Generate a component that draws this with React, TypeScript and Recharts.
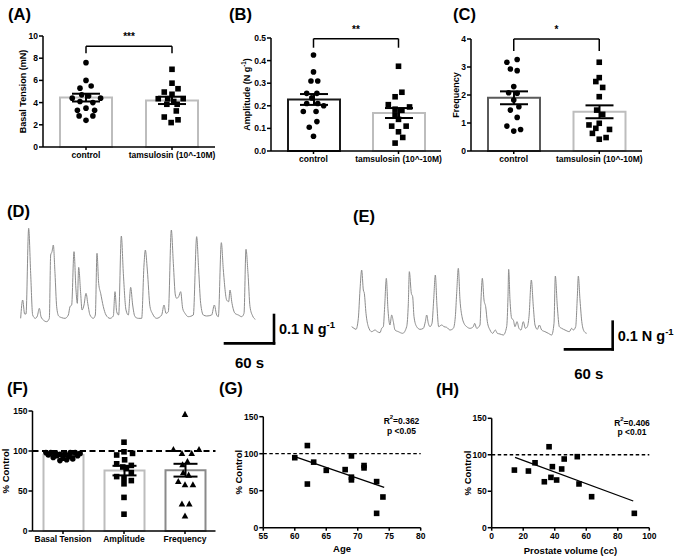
import {
  ComposedChart,
  LineChart,
  ScatterChart,
  Bar,
  Line,
  Scatter,
  XAxis,
  YAxis,
  ErrorBar,
  Cell,
  ReferenceLine,
} from 'recharts'

const FONT = '"Liberation Sans", Arial, sans-serif'

// ---- (A)-(C): control vs tamsulosin ----
const GROUPS = ['control', 'tamsulosin (10^-10M)']

const BASAL_MEAN = [4.45, 4.2]
const BASAL_SEM = [0.35, 0.33]
const BASAL_CTRL = [7.6, 6.0, 5.5, 5.3, 4.7, 4.6, 4.4, 4.4, 4.1, 4.0, 3.5, 3.3, 3.3, 2.8, 2.8, 2.4]
const BASAL_CTRL_SPREAD = [0, 0, 0.06, -0.07, -0.05, 0.03, -0.16, 0.17, -0.07, 0.08, 0, -0.1, 0.1, -0.08, 0.08, 0]
const BASAL_TAM = [7.0, 5.75, 5.25, 4.95, 4.75, 4.35, 4.35, 4.35, 4.1, 3.85, 3.85, 3.25, 2.7, 2.45, 2.2]
const BASAL_TAM_SPREAD = [0, 0, 0.07, -0.09, 0, -0.16, -0.05, 0.13, 0.02, -0.06, 0.06, 0.05, -0.09, 0.07, -0.01]

const AMP_MEAN = [0.228, 0.168]
const AMP_SEM = [0.024, 0.022]
const AMP_CTRL = [0.425, 0.35, 0.31, 0.31, 0.255, 0.255, 0.235, 0.21, 0.21, 0.2, 0.175, 0.175, 0.13, 0.105, 0.065]
const AMP_CTRL_SPREAD = [0, 0, -0.03, 0.05, -0.08, 0.04, -0.02, -0.08, 0.05, 0.12, -0.12, 0.03, 0.04, -0.05, 0]
const AMP_TAM = [0.375, 0.26, 0.24, 0.205, 0.195, 0.185, 0.18, 0.16, 0.14, 0.11, 0.11, 0.085, 0.06, 0.035]
const AMP_TAM_SPREAD = [0, 0.04, -0.04, -0.12, 0.13, -0.04, 0.04, -0.04, 0, -0.08, 0.09, 0, 0.05, -0.04]

const FREQ_MEAN = [1.9, 1.4]
const FREQ_SEM = [0.23, 0.23]
const FREQ_CTRL = [3.27, 3.17, 2.93, 2.87, 2.3, 2.08, 2.06, 1.82, 1.58, 1.46, 1.2, 0.89, 0.77, 0.71]
const FREQ_CTRL_SPREAD = [0.04, -0.08, -0.04, 0.04, 0, -0.06, 0.04, 0, 0.06, -0.04, 0.04, -0.08, 0.08, 0]
const FREQ_TAM = [3.17, 2.62, 2.48, 2.27, 1.94, 1.46, 1.31, 0.99, 0.93, 0.81, 0.77, 0.63, 0.48, 0.42]
const FREQ_TAM_SPREAD = [0, 0, -0.04, 0.04, 0, -0.03, 0.04, 0, -0.12, -0.04, 0.12, -0.08, 0.08, 0]

// ---- (F): % of control ----
const PCT_CATS = ['Basal Tension', 'Amplitude', 'Frequency']
const PCT_MEAN = [95, 75.5, 76]
const PCT_SEM = [1.5, 6, 8]
const PCT_BASAL = [98, 98, 97, 96, 97, 98, 98, 97, 95, 94, 93, 94, 92, 91, 90, 88, 89]
const PCT_BASAL_SPREAD = [-0.28, -0.2, -0.12, -0.05, 0.03, 0.12, 0.2, 0.28, -0.24, -0.1, 0.1, 0.24, -0.16, 0, 0.16, -0.05, 0.06]
const PCT_AMP = [111, 99, 97, 95, 89, 84, 82, 80, 78, 73, 68, 66, 63, 59, 42, 21]
const PCT_AMP_SPREAD = [0, 0, 0.14, -0.12, 0.01, -0.12, 0.12, -0.02, 0.04, 0.12, -0.12, 0, 0.12, 0, 0, 0]
const PCT_FREQ = [146, 102, 102, 97, 97, 87, 83, 73, 70, 62, 58, 58, 34, 34, 19]
const PCT_FREQ_SPREAD = [0, -0.19, 0.23, -0.05, 0.11, 0.04, -0.04, -0.03, 0.06, -0.11, 0, 0.13, -0.05, 0.07, 0]

// ---- (G), (H): correlations ----
const AGE = [60, 62, 62, 63, 65, 68, 69, 69, 69, 71, 71, 73, 73, 74]
const AGE_PCT = [94.6, 111, 59, 88.6, 77.5, 78.5, 97, 68.3, 64.6, 84, 80.8, 62.3, 19.4, 41.5]
const AGE_FIT = [[60, 96], [74.2, 54.5]]
const VOL = [14.4, 23.3, 27.5, 33.4, 36.4, 37.6, 38.5, 41.2, 44.4, 46, 54.3, 55.4, 63.4, 90.5]
const VOL_PCT = [79, 77.7, 89, 63, 111, 69, 83.7, 65.4, 80.5, 94.2, 97.4, 60, 42.5, 19.7]
const VOL_FIT = [[14.8, 96.5], [89.8, 36.6]]

// ---- (D), (E): raw traces, [time, force] in trace units (60 s ~ 147, 0.1 N/g ~ 85) ----
const TRACE_D = [
  [2, 10], [8, 65], [14, 23], [18, 23], [26, 280], [32, 145], [38, 20], [46, 10], [52, 17], [58, 40],
  [63, 15], [70, 5], [80, 0], [88, 10], [92, 200], [96, 210], [100, 230], [105, 145], [110, 45], [116, 17],
  [125, 12], [135, 10], [145, 20], [150, 45], [155, 50], [162, 210], [168, 95], [172, 55], [176, 163], [182, 85],
  [186, 35], [192, 50], [198, 85], [204, 50], [210, 20], [220, 10], [226, 20], [231, 205], [236, 115], [242, 85],
  [250, 45], [258, 20], [270, 10], [280, 17], [285, 90], [290, 30], [296, 20], [304, 257], [310, 145], [318, 35],
  [325, 20], [332, 103], [338, 50], [345, 15], [355, 10], [365, 10], [372, 170], [376, 215], [382, 155], [390, 45],
  [398, 23], [410, 10], [425, 20], [432, 50], [438, 25], [445, 30], [454, 275], [460, 175], [466, 80], [470, 70],
  [476, 75], [482, 90], [488, 40], [495, 25], [505, 15], [520, 20], [530, 255], [536, 155], [542, 55], [550, 20],
  [560, 17], [575, 20], [583, 50], [590, 20], [595, 15], [604, 237], [610, 155], [620, 65], [626, 60], [630, 95],
  [636, 55], [645, 25], [655, 20], [665, 15], [672, 25], [678, 217], [684, 145], [690, 45], [698, 17], [706, 7],
]
const TRACE_E = [
  [5, 30], [12, 25], [18, 22], [25, 55], [30, 140], [35, 200], [40, 140], [43, 130], [48, 70], [55, 30],
  [65, 15], [75, 20], [82, 15], [90, 12], [95, 25], [100, 30], [104, 90], [109, 175], [114, 80], [120, 35],
  [125, 65], [130, 45], [135, 20], [145, 15], [158, 10], [170, 30], [175, 100], [178, 195], [184, 130], [188, 120],
  [192, 60], [200, 30], [210, 22], [220, 25], [226, 45], [230, 65], [235, 40], [240, 30], [246, 40], [251, 110],
  [256, 185], [261, 90], [266, 30], [275, 35], [282, 30], [290, 28], [300, 20], [310, 25], [316, 60], [320, 130],
  [325, 205], [330, 110], [336, 60], [342, 40], [350, 30], [360, 25], [370, 30], [374, 40], [380, 25], [390, 35],
  [393, 110], [397, 175], [402, 110], [407, 90], [412, 45], [420, 20], [428, 10], [436, 20], [442, 10], [450, 8],
  [460, 5], [470, 30], [474, 120], [476, 202], [480, 110], [485, 55], [490, 50], [495, 30], [501, 45], [507, 25],
  [513, 20], [520, 45], [526, 25], [532, 30], [537, 60], [544, 170], [550, 90], [555, 35], [562, 22], [568, 35],
  [575, 20], [585, 15], [595, 10], [605, 5], [612, 40], [616, 182], [622, 90], [628, 30], [635, 25], [645, 20],
  [658, 15], [665, 25], [670, 20], [677, 30], [682, 120], [685, 182], [690, 110], [696, 40], [703, 15], [710, 10],
]

const AXIS = { stroke: '#000', strokeWidth: 1.5 }
const TICK = { fill: '#000', fontSize: 8.5, fontWeight: 700 }

const dot = (p: any) => <circle cx={p.cx} cy={p.cy} r={2.8} fill="#000" />
const square = (p: any) => <rect x={p.cx - 2.8} y={p.cy - 2.8} width={5.6} height={5.6} fill="#000" />
const triangle = (p: any) => (
  <polygon points={`${p.cx},${p.cy - 3.4} ${p.cx + 3.3},${p.cy + 2.7} ${p.cx - 3.3},${p.cy + 2.7}`} fill="#000" />
)

function YTitle({ cx, cy, text, sup, tail, size = 9 }: any) {
  return (
    <text
      x={cx}
      y={cy}
      transform={`rotate(-90 ${cx} ${cy})`}
      textAnchor="middle"
      dominantBaseline="central"
      fontSize={size}
      fontWeight={700}
      fill="#000"
    >
      {text}
      {sup && <tspan dy={-size * 0.4} fontSize={size * 0.7}>{sup}</tspan>}
      {tail && <tspan dy={size * 0.4}>{tail}</tspan>}
    </text>
  )
}

function ForceLabel({ viewBox }: any) {
  if (!viewBox) return null
  const x = viewBox.x + 5
  const y = viewBox.y + viewBox.height / 2
  return (
    <text x={x} y={y} dominantBaseline="central" fontSize={14.5} fontWeight={700} fill="#000">
      0.1 N g<tspan dy={-5} fontSize={9.5}>-1</tspan>
    </text>
  )
}

function TimeLabel({ viewBox, gap }: any) {
  if (!viewBox) return null
  return (
    <text
      x={viewBox.x + viewBox.width / 2}
      y={viewBox.y + gap}
      textAnchor="middle"
      dominantBaseline="central"
      fontSize={15}
      fontWeight={700}
      fill="#000"
    >
      60 s
    </text>
  )
}

function Letter({ x, y, text }: { x: number; y: number; text: string }) {
  return (
    <div style={{ position: 'absolute', left: x, top: y, fontSize: 16.5, fontWeight: 700, lineHeight: 1 }}>
      {text}
    </div>
  )
}

interface DotBarProps {
  left: number
  top: number
  width: number
  height: number
  margin: { top: number; right: number; bottom: number; left: number }
  yWidth: number
  xHeight: number
  cats: string[]
  means: number[]
  sems: number[]
  colors: string[]
  dots: { values: number[]; spread: number[]; shape: (p: any) => any }[]
  yDomain: [number, number]
  yTicks: number[]
  yFmt?: (v: number) => string
  barSize: number
  capWidth: number
  title: any
  bracket?: { top: number; foot: number; stars: string }
  refY?: number
}

function DotBarPanel(p: DotBarProps) {
  const barData = p.cats.map((name, i) => ({ name, mean: p.means[i], sem: p.sems[i] }))
  return (
    <div style={{ position: 'absolute', left: p.left, top: p.top }}>
      <ComposedChart width={p.width} height={p.height} margin={p.margin} data={barData}>
        <XAxis
          xAxisId="cat"
          dataKey="name"
          type="category"
          height={p.xHeight}
          axisLine={AXIS}
          tickLine={AXIS}
          tickSize={3}
          tick={TICK}
          interval={0}
        />
        <XAxis xAxisId="num" type="number" dataKey="x" domain={[0, p.cats.length]} hide />
        <YAxis
          type="number"
          domain={p.yDomain}
          ticks={p.yTicks}
          tickFormatter={p.yFmt}
          width={p.yWidth}
          axisLine={AXIS}
          tickLine={AXIS}
          tickSize={4}
          tickMargin={1}
          tick={TICK}
          interval={0}
          label={p.title}
        />
        <Bar xAxisId="cat" dataKey="mean" fill="#fff" strokeWidth={2} barSize={p.barSize} isAnimationActive={false}>
          {p.colors.map((c, i) => (
            <Cell key={i} stroke={c} />
          ))}
          <ErrorBar dataKey="sem" width={p.capWidth} stroke="#000" strokeWidth={2} isAnimationActive={false} />
        </Bar>
        {p.refY !== undefined && (
          <ReferenceLine xAxisId="cat" y={p.refY} stroke="#000" strokeWidth={2} strokeDasharray="6 3.5" />
        )}
        {p.dots.map((g, i) => (
          <Scatter
            key={i}
            xAxisId="num"
            dataKey="y"
            data={g.values.map((v, k) => ({ x: i + 0.5 + g.spread[k], y: v }))}
            shape={g.shape}
            isAnimationActive={false}
          />
        ))}
        {p.bracket && (
          <ReferenceLine
            xAxisId="num"
            segment={[{ x: 0.5, y: p.bracket.foot }, { x: 0.5, y: p.bracket.top }]}
            stroke="#000"
            strokeWidth={1.5}
            ifOverflow="visible"
          />
        )}
        {p.bracket && (
          <ReferenceLine
            xAxisId="num"
            segment={[{ x: 0.5, y: p.bracket.top }, { x: 1.5, y: p.bracket.top }]}
            stroke="#000"
            strokeWidth={1.5}
            ifOverflow="visible"
            label={{ value: p.bracket.stars, position: 'top', offset: 6, fill: '#000', fontSize: 10, fontWeight: 700 }}
          />
        )}
        {p.bracket && (
          <ReferenceLine
            xAxisId="num"
            segment={[{ x: 1.5, y: p.bracket.foot }, { x: 1.5, y: p.bracket.top }]}
            stroke="#000"
            strokeWidth={1.5}
            ifOverflow="visible"
          />
        )}
      </ComposedChart>
    </div>
  )
}

function TracePanel({ left, top, width, height, trace, tDomain, fDomain, bar, timeGap }: any) {
  const data = trace.map(([t, f]: number[]) => ({ t, f }))
  return (
    <div style={{ position: 'absolute', left, top }}>
      <LineChart width={width} height={height} data={data} margin={{ top: 0, right: 0, bottom: 0, left: 0 }}>
        <XAxis type="number" dataKey="t" domain={tDomain} hide />
        <YAxis type="number" domain={fDomain} hide />
        <Line
          type="monotone"
          dataKey="f"
          stroke="#8c8c8c"
          strokeWidth={1}
          dot={false}
          activeDot={false}
          isAnimationActive={false}
        />
        <ReferenceLine
          segment={[{ x: bar.t0, y: bar.f0 }, { x: bar.t1, y: bar.f0 }]}
          stroke="#000"
          strokeWidth={2.6}
          strokeLinecap="square"
          label={<TimeLabel gap={timeGap} />}
        />
        <ReferenceLine
          segment={[{ x: bar.t1, y: bar.f0 }, { x: bar.t1, y: bar.f1 }]}
          stroke="#000"
          strokeWidth={2.6}
          strokeLinecap="square"
          label={<ForceLabel />}
        />
      </LineChart>
    </div>
  )
}

function CorrPanel({ left, top, margin, yWidth, xs, ys, fit, xDomain, xTicks, xLabel, titleCx, xLabelOffset }: any) {
  const data = xs.map((x: number, i: number) => ({ x, y: ys[i] }))
  return (
    <div style={{ position: 'absolute', left, top }}>
      <ScatterChart width={225} height={186} margin={margin}>
        <XAxis
          type="number"
          dataKey="x"
          domain={xDomain}
          ticks={xTicks}
          interval={0}
          height={24.3}
          axisLine={AXIS}
          tickLine={AXIS}
          tickSize={3}
          tick={TICK}
          label={{ value: xLabel, position: 'insideBottom', offset: xLabelOffset, fill: '#000', fontSize: 9.5, fontWeight: 700 }}
        />
        <YAxis
          type="number"
          dataKey="y"
          domain={[0, 150]}
          ticks={[0, 50, 100, 150]}
          interval={0}
          width={yWidth}
          axisLine={AXIS}
          tickLine={AXIS}
          tickSize={4}
          tickMargin={1}
          tick={TICK}
          label={<YTitle cx={titleCx} cy={(margin.top + 186 - margin.bottom - 24.3) / 2} text="% Control" size={9.5} />}
        />
        <ReferenceLine y={100} stroke="#000" strokeWidth={1.3} strokeDasharray="3.5 2.5" />
        <ReferenceLine
          segment={[{ x: fit[0][0], y: fit[0][1] }, { x: fit[1][0], y: fit[1][1] }]}
          stroke="#000"
          strokeWidth={1.3}
        />
        <Scatter data={data} shape={square} isAnimationActive={false} />
      </ScatterChart>
    </div>
  )
}

function Stats({ cx, top, r2, p }: { cx: number; top: number; r2: string; p: string }) {
  return (
    <div
      style={{
        position: 'absolute',
        left: cx - 35,
        top,
        width: 70,
        textAlign: 'center',
        fontSize: 8.5,
        fontWeight: 700,
        lineHeight: '9.5px',
      }}
    >
      R<span style={{ fontSize: 6, verticalAlign: 'top', lineHeight: 0 }}>2</span>={r2}
      <br />p {p}
    </div>
  )
}

export default function App() {
  return (
    <div
      style={{
        position: 'fixed',
        left: 0,
        top: 0,
        width: 675,
        height: 556,
        background: '#fff',
        overflow: 'hidden',
        fontFamily: FONT,
        color: '#000',
      }}
    >
      <Letter x={8} y={5.5} text="(A)" />
      <Letter x={229} y={5.5} text="(B)" />
      <Letter x={453} y={5.5} text="(C)" />
      <Letter x={7} y={203} text="(D)" />
      <Letter x={353} y={207.5} text="(E)" />
      <Letter x={7} y={379.5} text="(F)" />
      <Letter x={219} y={379.5} text="(G)" />
      <Letter x={436} y={381} text="(H)" />

      <DotBarPanel
        left={0}
        top={0}
        width={225}
        height={180}
        margin={{ top: 36, right: 10, bottom: 5, left: 0 }}
        yWidth={43}
        xHeight={28}
        cats={GROUPS}
        means={BASAL_MEAN}
        sems={BASAL_SEM}
        colors={['#bdbdbd', '#bdbdbd']}
        dots={[
          { values: BASAL_CTRL, spread: BASAL_CTRL_SPREAD, shape: dot },
          { values: BASAL_TAM, spread: BASAL_TAM_SPREAD, shape: square },
        ]}
        yDomain={[0, 10]}
        yTicks={[0, 2, 4, 6, 8, 10]}
        barSize={52}
        capWidth={14}
        title={<YTitle cx={22.5} cy={91.5} text="Basal Tension (mN)" />}
        bracket={{ top: 9.08, foot: 8.45, stars: '***' }}
      />
      <DotBarPanel
        left={225}
        top={0}
        width={225}
        height={180}
        margin={{ top: 38, right: 9, bottom: 5, left: 0 }}
        yWidth={46}
        xHeight={24}
        cats={GROUPS}
        means={AMP_MEAN}
        sems={AMP_SEM}
        colors={['#1a1a1a', '#bdbdbd']}
        dots={[
          { values: AMP_CTRL, spread: AMP_CTRL_SPREAD, shape: dot },
          { values: AMP_TAM, spread: AMP_TAM_SPREAD, shape: square },
        ]}
        yDomain={[0, 0.5]}
        yTicks={[0, 0.1, 0.2, 0.3, 0.4, 0.5]}
        yFmt={(v) => v.toFixed(1)}
        barSize={52}
        capWidth={14}
        title={<YTitle cx={22} cy={94.5} text="Amplitude (N g" sup="-1" tail=")" />}
        bracket={{ top: 0.497, foot: 0.457, stars: '**' }}
      />
      <DotBarPanel
        left={450}
        top={0}
        width={225}
        height={180}
        margin={{ top: 39, right: 33, bottom: 5, left: 0 }}
        yWidth={21}
        xHeight={24}
        cats={GROUPS}
        means={FREQ_MEAN}
        sems={FREQ_SEM}
        colors={['#5a5a5a', '#bdbdbd']}
        dots={[
          { values: FREQ_CTRL, spread: FREQ_CTRL_SPREAD, shape: dot },
          { values: FREQ_TAM, spread: FREQ_TAM_SPREAD, shape: square },
        ]}
        yDomain={[0, 4]}
        yTicks={[0, 1, 2, 3, 4]}
        barSize={52}
        capWidth={14}
        title={<YTitle cx={6} cy={95} text="Frequency" />}
        bracket={{ top: 4.0, foot: 3.57, stars: '*' }}
      />

      <TracePanel
        left={0}
        top={190}
        width={340}
        height={200}
        trace={TRACE_D}
        tDomain={[-60, 960]}
        fDomain={[-205, 395]}
        bar={{ t0: 615, t1: 762, f0: -65, f1: 20 }}
        timeGap={19}
      />
      <TracePanel
        left={340}
        top={190}
        width={335}
        height={200}
        trace={TRACE_E}
        tDomain={[-30, 975]}
        fDomain={[-160, 440]}
        bar={{ t0: 645, t1: 788, f0: -38, f1: 45 }}
        timeGap={24}
      />

      <DotBarPanel
        left={0}
        top={370}
        width={225}
        height={186}
        margin={{ top: 41, right: 9.5, bottom: 5, left: 0 }}
        yWidth={32.5}
        xHeight={20}
        cats={PCT_CATS}
        means={PCT_MEAN}
        sems={PCT_SEM}
        colors={['#bdbdbd', '#bdbdbd', '#8a8a8a']}
        dots={[
          { values: PCT_BASAL, spread: PCT_BASAL_SPREAD, shape: dot },
          { values: PCT_AMP, spread: PCT_AMP_SPREAD, shape: square },
          { values: PCT_FREQ, spread: PCT_FREQ_SPREAD, shape: triangle },
        ]}
        yDomain={[0, 150]}
        yTicks={[0, 50, 100, 150]}
        barSize={40}
        capWidth={12}
        title={<YTitle cx={5.5} cy={101} text="% Control" size={9.5} />}
        refY={100}
      />
      <CorrPanel
        left={225}
        top={370}
        margin={{ top: 46.7, right: 29.3, bottom: 4, left: 0 }}
        yWidth={38.3}
        xs={AGE}
        ys={AGE_PCT}
        fit={AGE_FIT}
        xDomain={[55, 80]}
        xTicks={[55, 60, 65, 70, 75, 80]}
        xLabel="Age"
        xLabelOffset={0}
        titleCx={14}
      />
      <CorrPanel
        left={450}
        top={370}
        margin={{ top: 48.3, right: 25.7, bottom: 4, left: 0 }}
        yWidth={41.7}
        xs={VOL}
        ys={VOL_PCT}
        fit={VOL_FIT}
        xDomain={[0, 100]}
        xTicks={[0, 20, 40, 60, 80, 100]}
        xLabel="Prostate volume (cc)"
        xLabelOffset={-2}
        titleCx={17}
      />
      <Stats cx={401.5} top={417} r2="0.362" p="<0.05" />
      <Stats cx={632} top={418.5} r2="0.406" p="<0.01" />
    </div>
  )
}
